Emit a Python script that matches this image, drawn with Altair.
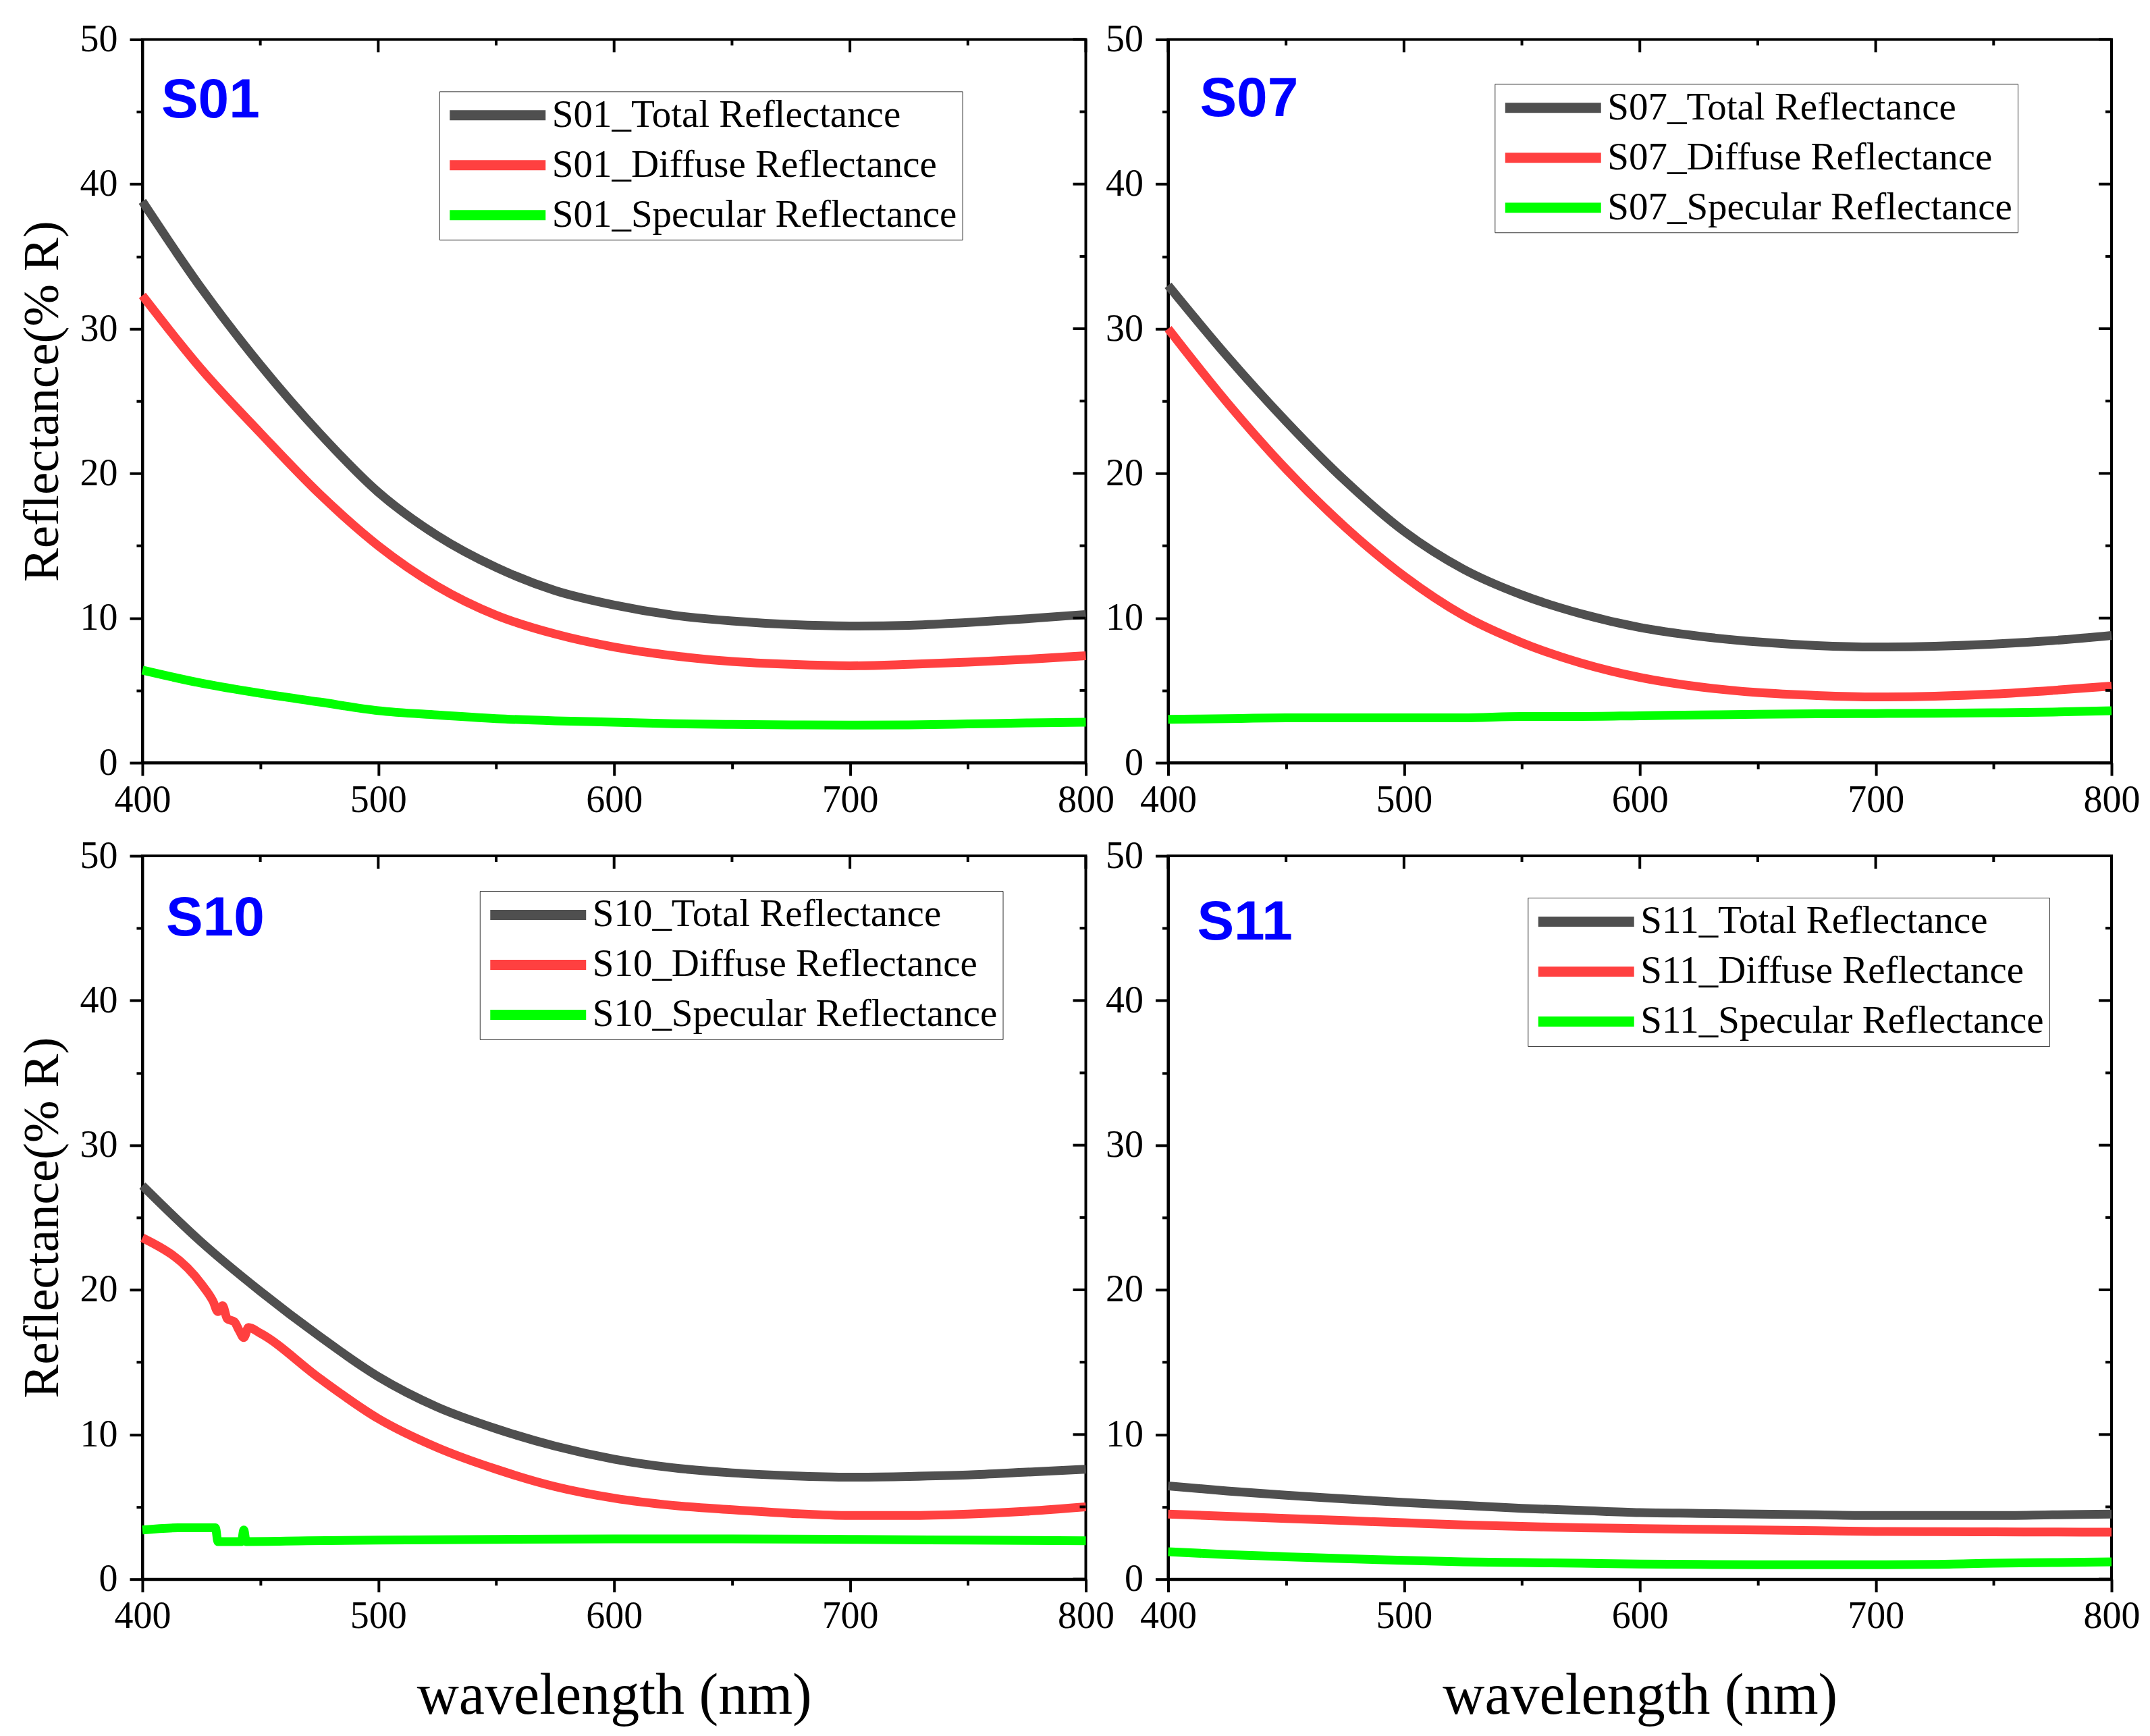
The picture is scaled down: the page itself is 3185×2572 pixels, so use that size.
import altair as alt
import pandas as pd

# wavelength grid (nm) shared by most series
WAVELENGTH = [400, 425, 450, 475, 500, 525, 550, 575, 600, 625, 650, 675, 700, 725, 750, 775, 800]

S01_TOTAL = [38.8, 32.8, 27.5, 22.8, 18.7, 15.7, 13.5, 11.9, 10.9, 10.2, 9.8, 9.55, 9.45, 9.5, 9.7, 9.95, 10.25]
S01_DIFFUSE = [32.3, 27.2, 22.8, 18.6, 15.0, 12.2, 10.2, 8.9, 8.0, 7.4, 7.0, 6.8, 6.7, 6.8, 6.95, 7.15, 7.4]
S01_SPECULAR = [6.4, 5.5, 4.8, 4.2, 3.6, 3.3, 3.05, 2.9, 2.8, 2.7, 2.65, 2.62, 2.6, 2.62, 2.68, 2.75, 2.8]

S07_TOTAL = [33.0, 28.1, 23.6, 19.5, 16.0, 13.4, 11.6, 10.3, 9.35, 8.75, 8.35, 8.1, 8.0, 8.05, 8.2, 8.45, 8.8]
S07_DIFFUSE = [30.0, 24.9, 20.3, 16.3, 12.9, 10.2, 8.3, 6.9, 5.9, 5.25, 4.85, 4.65, 4.55, 4.6, 4.75, 5.0, 5.3]
S07_SPECULAR = [3.0, 3.05, 3.1, 3.1, 3.1, 3.1, 3.2, 3.2, 3.25, 3.3, 3.35, 3.38, 3.4, 3.42, 3.45, 3.5, 3.6]

S10_TOTAL = [27.2, 23.3, 19.9, 16.8, 14.0, 11.9, 10.4, 9.2, 8.3, 7.7, 7.35, 7.15, 7.05, 7.1, 7.2, 7.4, 7.6]
# S10 diffuse / specular have a glitch near 430-445 nm, so they get their own grids
S10_DIFFUSE_WL = [400, 425, 430, 432, 434, 436, 439, 441, 443, 445, 450, 475, 500, 525, 550,
                  575, 600, 625, 650, 675, 700, 725, 750, 775, 800]
S10_DIFFUSE = [23.6, 20.4, 19.2, 18.5, 18.9, 18.0, 17.8, 17.2, 16.7, 17.4, 17.0, 13.9, 11.1, 9.1, 7.6,
               6.4, 5.6, 5.1, 4.8, 4.55, 4.4, 4.4, 4.5, 4.7, 5.0]
S10_SPECULAR_WL = [400, 415, 431, 432, 442, 443, 444, 470, 500, 550, 600, 650, 700, 750, 800]
S10_SPECULAR = [3.4, 3.55, 3.55, 2.6, 2.6, 3.4, 2.6, 2.65, 2.7, 2.75, 2.78, 2.78, 2.75, 2.7, 2.65]

S11_TOTAL = [6.45, 6.1, 5.8, 5.55, 5.3, 5.1, 4.9, 4.75, 4.6, 4.55, 4.5, 4.45, 4.4, 4.4, 4.4, 4.45, 4.5]
S11_DIFFUSE = [4.5, 4.35, 4.2, 4.05, 3.9, 3.75, 3.65, 3.55, 3.5, 3.45, 3.4, 3.35, 3.3, 3.28, 3.27, 3.26, 3.25]
S11_SPECULAR = [1.9, 1.7, 1.55, 1.42, 1.3, 1.2, 1.15, 1.1, 1.05, 1.02, 1.0, 1.0, 1.0, 1.02, 1.1, 1.15, 1.2]

X_MAJOR = [400, 500, 600, 700, 800]
X_MINOR = [450, 550, 650, 750]
Y_MAJOR = [0, 10, 20, 30, 40, 50]
Y_MINOR = [5, 15, 25, 35, 45]

KINDS = ["Total Reflectance", "Diffuse Reflectance", "Specular Reflectance"]
COLORS = ["#4f4f4f", "#ff4040", "#00ff00"]

SERIF = "Liberation Serif"
W, H = 1398, 1072
MAJOR_LEN, MINOR_LEN = 19, 9


def long_frame(sample, parts):
    rows = []
    for kind, (wl, vals) in zip(KINDS, parts):
        for w, v in zip(wl, vals):
            rows.append({"wavelength": w, "reflectance": v, "series": f"{sample}_{kind}"})
    return pd.DataFrame(rows)


def panel(sample, parts, legend_xy, label_xy, x_title, y_title):
    df = long_frame(sample, parts)
    names = [f"{sample}_{k}" for k in KINDS]

    common = dict(
        domainColor="black", domainWidth=4, tickColor="black", tickWidth=4,
        labelFont=SERIF, labelFontSize=56, labelColor="black",
        titleFont=SERIF, titleFontWeight="normal", titleColor="black",
        grid=False, labelOverlap=False, labelFlush=False,
    )
    x_axis = alt.Axis(
        values=sorted(X_MAJOR + X_MINOR),
        labelExpr="datum.value % 100 == 0 ? datum.label : ''",
        tickSize={"condition": {"test": "datum.value % 100 != 0", "value": MINOR_LEN}, "value": MAJOR_LEN},
        labelPadding=9, title=x_title, titleFontSize=86, titlePadding=48,
        **common,
    )
    y_axis = alt.Axis(
        values=sorted(Y_MAJOR + Y_MINOR),
        labelExpr="datum.value % 10 == 0 ? datum.label : ''",
        tickSize={"condition": {"test": "datum.value % 10 != 0", "value": MINOR_LEN}, "value": MAJOR_LEN},
        labelPadding=18, title=y_title, titleFontSize=75, titlePadding=16,
        **common,
    )
    x_enc = alt.X("wavelength:Q", scale=alt.Scale(domain=[400, 800], nice=False), axis=x_axis)
    y_enc = alt.Y("reflectance:Q", scale=alt.Scale(domain=[0, 50], nice=False), axis=y_axis)

    lines = alt.Chart(df).mark_line(strokeWidth=13, interpolate="monotone").encode(
        x=x_enc,
        y=y_enc,
        color=alt.Color(
            "series:N",
            scale=alt.Scale(domain=names, range=COLORS),
            legend=alt.Legend(
                title=None, orient="none", legendX=legend_xy[0], legendY=legend_xy[1],
                symbolType="stroke", symbolSize=20164, symbolStrokeWidth=15,
                labelFont=SERIF, labelFontSize=57, labelColor="black", labelLimit=1000,
                labelOffset=2, clipHeight=55, rowPadding=16, padding=8,
                strokeColor="#333333", fillColor="white",
            ),
        ),
        order=alt.Order("wavelength:Q"),
    )

    # inward ticks on the top and right frame, as in the original
    top_major = alt.Chart(pd.DataFrame({"wavelength": X_MAJOR})).mark_rule(
        color="black", strokeWidth=4
    ).encode(x=x_enc, y=alt.value(0), y2=alt.value(MAJOR_LEN))
    top_minor = alt.Chart(pd.DataFrame({"wavelength": X_MINOR})).mark_rule(
        color="black", strokeWidth=4
    ).encode(x=x_enc, y=alt.value(0), y2=alt.value(MINOR_LEN))
    right_major = alt.Chart(pd.DataFrame({"reflectance": Y_MAJOR})).mark_rule(
        color="black", strokeWidth=4
    ).encode(y=y_enc, x=alt.value(W), x2=alt.value(W - MAJOR_LEN))
    right_minor = alt.Chart(pd.DataFrame({"reflectance": Y_MINOR})).mark_rule(
        color="black", strokeWidth=4
    ).encode(y=y_enc, x=alt.value(W), x2=alt.value(W - MINOR_LEN))

    label = alt.Chart(pd.DataFrame({"label": [sample]})).mark_text(
        align="left", baseline="alphabetic", font="Liberation Sans",
        fontWeight="bold", fontSize=82, color="#0000ff",
    ).encode(x=alt.value(label_xy[0]), y=alt.value(label_xy[1]), text="label:N")

    return alt.layer(lines, top_major, top_minor, right_major, right_minor, label).properties(
        width=W, height=H
    )


p01 = panel("S01", [(WAVELENGTH, S01_TOTAL), (WAVELENGTH, S01_DIFFUSE), (WAVELENGTH, S01_SPECULAR)],
            (440, 77), (28, 116), None, "Reflectance(% R)")
p07 = panel("S07", [(WAVELENGTH, S07_TOTAL), (WAVELENGTH, S07_DIFFUSE), (WAVELENGTH, S07_SPECULAR)],
            (484, 66), (47, 114), None, None)
p10 = panel("S10", [(WAVELENGTH, S10_TOTAL), (S10_DIFFUSE_WL, S10_DIFFUSE), (S10_SPECULAR_WL, S10_SPECULAR)],
            (500, 52), (35, 118), "wavelength (nm)", "Reflectance(% R)")
p11 = panel("S11", [(WAVELENGTH, S11_TOTAL), (WAVELENGTH, S11_DIFFUSE), (WAVELENGTH, S11_SPECULAR)],
            (533, 62), (43, 124), "wavelength (nm)", None)

chart = (
    alt.concat(p01, p07, p10, p11, columns=2, spacing={"row": 138, "column": 122}, bounds="flush")
    .resolve_scale(color="independent")
    .properties(padding={"left": 16, "top": 20, "right": 5, "bottom": 5}, background="white")
    .configure_view(stroke="black", strokeWidth=4)
)

chart.save("out.html", embed_options={"renderer": "svg", "actions": False})
